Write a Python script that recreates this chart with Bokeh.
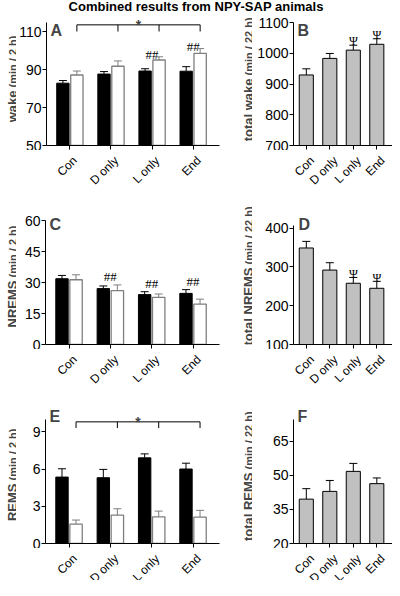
import numpy as np
from bokeh.plotting import figure
from bokeh.layouts import column, row
from bokeh.models import FixedTicker, Whisker, TeeHead, ColumnDataSource, Label, Range1d, Div
from bokeh.embed import file_html
from bokeh.resources import INLINE
from bokeh.core.properties import value

# ---------------- data ----------------
title_text = "Combined results from NPY-SAP animals"
categories = ["Con", "D only", "L only", "End"]

wake_dark = [82.8, 87.6, 89.2, 89.1]
wake_dark_err = [1.4, 1.3, 1.2, 2.4]
wake_light = [87.1, 91.7, 95.0, 98.5]
wake_light_err = [2.1, 2.8, 1.7, 2.5]

total_wake = [930, 984, 1011, 1030]
total_wake_err = [20, 16, 16, 18]

nrems_dark = [31.9, 27.1, 24.2, 24.8]
nrems_dark_err = [1.6, 1.3, 1.4, 1.8]
nrems_light = [31.4, 26.1, 22.9, 19.6]
nrems_light_err = [2.4, 2.8, 1.6, 2.4]

total_nrems = [349, 292, 258, 245]
total_nrems_err = [17, 19, 15, 18]

rems_dark = [5.35, 5.30, 6.90, 6.00]
rems_dark_err = [0.67, 0.67, 0.32, 0.47]
rems_light = [1.56, 2.29, 2.15, 2.13]
rems_light_err = [0.33, 0.51, 0.46, 0.54]

total_rems = [39.5, 42.9, 51.7, 46.3]
total_rems_err = [4.6, 4.8, 3.5, 2.5]

wake_ticks = [50, 70, 90, 110]
total_wake_ticks = [700, 800, 900, 1000, 1100]
nrems_ticks = [0, 15, 30, 45, 60]
total_nrems_ticks = [100, 200, 300, 400]
rems_ticks = [0, 3, 6, 9]
total_rems_ticks = [20, 35, 50, 65]

hash_A = [False, False, True, True]
hash_C = [False, True, True, True]
psi_B = [False, False, True, True]
psi_D = [False, False, True, True]

# ---------------- style / layout ----------------
FONT = "Liberation Sans"
SERIF = "Liberation Serif"
GRAY_FILL = "#c0c0c0"
LIGHT_LINE = "#7f7f7f"
OFF = 0.17
W2 = 0.30
W1 = 0.60

LEFT_X = (-0.569, 3.641)
RIGHT_X = (-0.545, 3.668)
# widths of the pieces of a row: [y-title, left plot, y-title, right plot]
LT_W, LP_W, RT_W, RP_W = 16, 208, 28, 140
LP_BL, LP_BR = 29, 5
RP_BL, RP_BR = 41, 0


def blank_fig(width, height, xr, yr):
    p = figure(width=width, height=height, x_range=Range1d(*xr), y_range=Range1d(*yr),
               output_backend="svg", toolbar_location=None, title=None,
               x_axis_location=None, y_axis_location=None, min_border=0,
               min_border_left=0, min_border_right=0, min_border_top=0, min_border_bottom=0)
    p.outline_line_color = None
    p.grid.visible = False
    p.background_fill_color = None
    p.border_fill_color = None
    return p


def make_fig(width, height, xr, yr, bl, br, bt, ticks, bounds):
    p = figure(width=width, height=height, x_range=Range1d(*xr), y_range=Range1d(*yr),
               output_backend="svg", toolbar_location=None, title=None,
               min_border_left=bl, min_border_right=br, min_border_top=bt, min_border_bottom=5)
    p.outline_line_color = None
    p.xgrid.visible = False
    p.ygrid.visible = False
    n = len(categories)
    p.xaxis.ticker = FixedTicker(ticks=list(range(n)))
    p.xaxis.major_label_overrides = {i: "" for i in range(n)}
    p.xaxis.major_label_text_font_size = "0px"
    p.xaxis.major_label_standoff = 0
    p.yaxis.ticker = FixedTicker(ticks=ticks)
    p.yaxis.bounds = bounds
    p.yaxis.major_label_text_font = FONT
    p.yaxis.major_label_text_font_size = "14px"
    p.yaxis.major_label_standoff = 1
    for ax in (p.xaxis, p.yaxis):
        ax.axis_line_color = "black"
        ax.axis_line_width = 1
        ax.major_tick_line_color = "black"
        ax.major_tick_out = 4
        ax.major_tick_in = 0
        ax.minor_tick_line_color = None
        ax.major_label_text_color = "black"
    return p


def strip(width, height, plot, frame_left_border, frame_w):
    # category-label strip under a plot, sharing its x scale
    x0, x1 = plot.x_range.start, plot.x_range.end
    k = (x1 - x0) / frame_w
    xr = (x0 - frame_left_border * k, x0 - frame_left_border * k + width * k)
    s = blank_fig(width, height, xr, (0, height))
    s.text(x=list(range(len(categories))), y=[height - 3] * len(categories), text=categories,
           angle=np.pi / 4, text_align="right", text_baseline="top", x_offset=1,
           text_font=value(FONT), text_font_size=value("12px"), text_color="black")
    return s


def whisker(p, src, color):
    p.add_layout(Whisker(source=src, base="x", lower="top", upper="up", dimension="height",
                         line_color=color, line_width=1, level="annotation",
                         upper_head=TeeHead(size=8, line_color=color, line_width=1),
                         lower_head=None))


def paired(p, dark, dark_err, light, light_err, base):
    x = np.arange(len(categories))
    sd = ColumnDataSource(dict(x=x - OFF, top=dark, up=np.add(dark, dark_err)))
    sl = ColumnDataSource(dict(x=x + OFF, top=light, up=np.add(light, light_err)))
    p.vbar(x="x", top="top", bottom=base, width=W2, source=sd,
           fill_color="black", line_color="black", line_width=1)
    p.vbar(x="x", top="top", bottom=base, width=W2, source=sl,
           fill_color="white", line_color=LIGHT_LINE, line_width=1.3)
    whisker(p, sd, "black")
    whisker(p, sl, LIGHT_LINE)


def single(p, vals, errs, base):
    x = np.arange(len(categories))
    s = ColumnDataSource(dict(x=x, top=vals, up=np.add(vals, errs)))
    p.vbar(x="x", top="top", bottom=base, width=W1, source=s,
           fill_color=GRAY_FILL, line_color="black", line_width=1)
    whisker(p, s, "black")


def marks(p, xs, ys, flags, txt, yoff, size):
    sx = [x for x, f in zip(xs, flags) if f]
    sy = [y for y, f in zip(ys, flags) if f]
    p.text(x=sx, y=sy, text=[txt] * len(sx), text_align="center", text_baseline="alphabetic",
           y_offset=yoff, text_font=value(SERIF), text_font_size=value(size), text_color="black")


def bracket(p, light_x, level, foot):
    p.segment(x0=[light_x[0]], y0=[level], x1=[light_x[-1]], y1=[level], line_color="black", line_width=1)
    p.segment(x0=list(light_x), y0=[level] * len(light_x), x1=list(light_x), y1=[foot] * len(light_x),
              line_color="black", line_width=1)
    mid = (light_x[1] + light_x[2]) / 2
    p.add_layout(Label(x=mid, y=level, text="*", text_align="center", text_baseline="alphabetic",
                       text_font=FONT, text_font_style="bold", text_font_size="14px"))


def letter(p, txt, x, y):
    p.add_layout(Label(x=x, y=y, x_units="screen", y_units="screen", text=txt,
                       text_align="left", text_baseline="alphabetic",
                       text_font=FONT, text_font_style="bold", text_font_size="16px"))


def ytitle_fig(width, height, big, small, x, yj):
    f = blank_fig(width, height, (0, width), (0, height))
    f.add_layout(Label(x=x, y=yj, x_units="screen", y_units="screen", text=big, angle=np.pi / 2,
                       text_align="right", text_baseline="alphabetic",
                       text_font=FONT, text_font_style="bold", text_font_size="13px"))
    f.add_layout(Label(x=x, y=yj + 3, x_units="screen", y_units="screen", text=small, angle=np.pi / 2,
                       text_align="left", text_baseline="alphabetic",
                       text_font=FONT, text_font_style="bold", text_font_size="11px"))
    return f


xs = np.arange(len(categories))
H1, H2, H3 = 136, 144, 148
S1, S2, S3 = 55, 51, 32

# ---- title ----
pt = Div(text=title_text, width=392, height=14, margin=(0, 0, 0, 0),
         styles={"font-family": FONT, "font-size": "13px", "font-weight": "bold",
                 "text-align": "center", "line-height": "14px", "color": "black",
                 "white-space": "nowrap"})

# ---- A ----
pA = make_fig(LP_W, H1, LEFT_X, (50, 118.95), LP_BL, LP_BR, 0, wake_ticks, (50, 115))
paired(pA, wake_dark, wake_dark_err, wake_light, wake_light_err, 50)
marks(pA, xs, np.add(wake_light, wake_light_err), hash_A, "##", -2, "13px")
bracket(pA, xs + OFF, 113.5, 110.0)
letter(pA, "A", 4, 115)
tA = ytitle_fig(LT_W, H1, "wake", "(min / 2 h)", 12, 55)

# ---- B ----
pB = make_fig(RP_W, H1, RIGHT_X, (700, 1127.1), RP_BL, RP_BR, 0, total_wake_ticks, (700, 1100))
single(pB, total_wake, total_wake_err, 700)
marks(pB, xs, np.add(total_wake, total_wake_err), psi_B, "Ψ", -4, "12px")
letter(pB, "B", 4, 115)
tB = ytitle_fig(RT_W, H1, "total wake", "(min / 22 h)", 24, 67)

# ---- C ----
pC = make_fig(LP_W, H2, LEFT_X, (0, 66.93), LP_BL, LP_BR, 1, nrems_ticks, (0, 60))
paired(pC, nrems_dark, nrems_dark_err, nrems_light, nrems_light_err, 0)
marks(pC, xs, np.maximum(np.add(nrems_dark, nrems_dark_err), np.add(nrems_light, nrems_light_err)),
      hash_C, "##", -8, "13px")
letter(pC, "C", 4, 120)
tC = ytitle_fig(LT_W, H2, "NREMS", "(min / 2 h)", 12, 64)

# ---- D ----
pD = make_fig(RP_W, H2, RIGHT_X, (100, 456.0), RP_BL, RP_BR, 1, total_nrems_ticks, (100, 406))
single(pD, total_nrems, total_nrems_err, 100)
marks(pD, xs, np.add(total_nrems, total_nrems_err), psi_D, "Ψ", -3, "12px")
letter(pD, "D", 5, 120)
tD = ytitle_fig(RT_W, H2, "total NREMS", "(min / 22 h)", 24, 77)

# ---- E ----
pE = make_fig(LP_W, H3, LEFT_X, (0, 11.44), LP_BL, LP_BR, 1, rems_ticks, (0, 10))
paired(pE, rems_dark, rems_dark_err, rems_light, rems_light_err, 0)
bracket(pE, xs + OFF, 9.8, 9.3)
letter(pE, "E", 4, 127)
tE = ytitle_fig(LT_W, H3, "REMS", "(min / 2 h)", 12, 60)

# ---- F ----
pF = make_fig(RP_W, H3, RIGHT_X, (20, 82.4), RP_BL, RP_BR, 1, total_rems_ticks, (20, 74.5))
single(pF, total_rems, total_rems_err, 20)
letter(pF, "F", 4, 127)
tF = ytitle_fig(RT_W, H3, "total REMS", "(min / 22 h)", 24, 71)

# ---- category label strips ----
LF_W = LP_W - LP_BL - LP_BR
RF_W = RP_W - RP_BL - RP_BR
sA = strip(LT_W + LP_W, S1, pA, LT_W + LP_BL, LF_W)
sB = strip(RT_W + RP_W, S1, pB, RT_W + RP_BL, RF_W)
sC = strip(LT_W + LP_W, S2, pC, LT_W + LP_BL, LF_W)
sD = strip(RT_W + RP_W, S2, pD, RT_W + RP_BL, RF_W)
sE = strip(LT_W + LP_W, S3, pE, LT_W + LP_BL, LF_W)
sF = strip(RT_W + RP_W, S3, pF, RT_W + RP_BL, RF_W)

layout = column(pt,
                row(tA, pA, tB, pB), row(sA, sB),
                row(tC, pC, tD, pD), row(sC, sD),
                row(tE, pE, tF, pF), row(sE, sF))
open("out.html", "w").write(file_html(layout, INLINE))
